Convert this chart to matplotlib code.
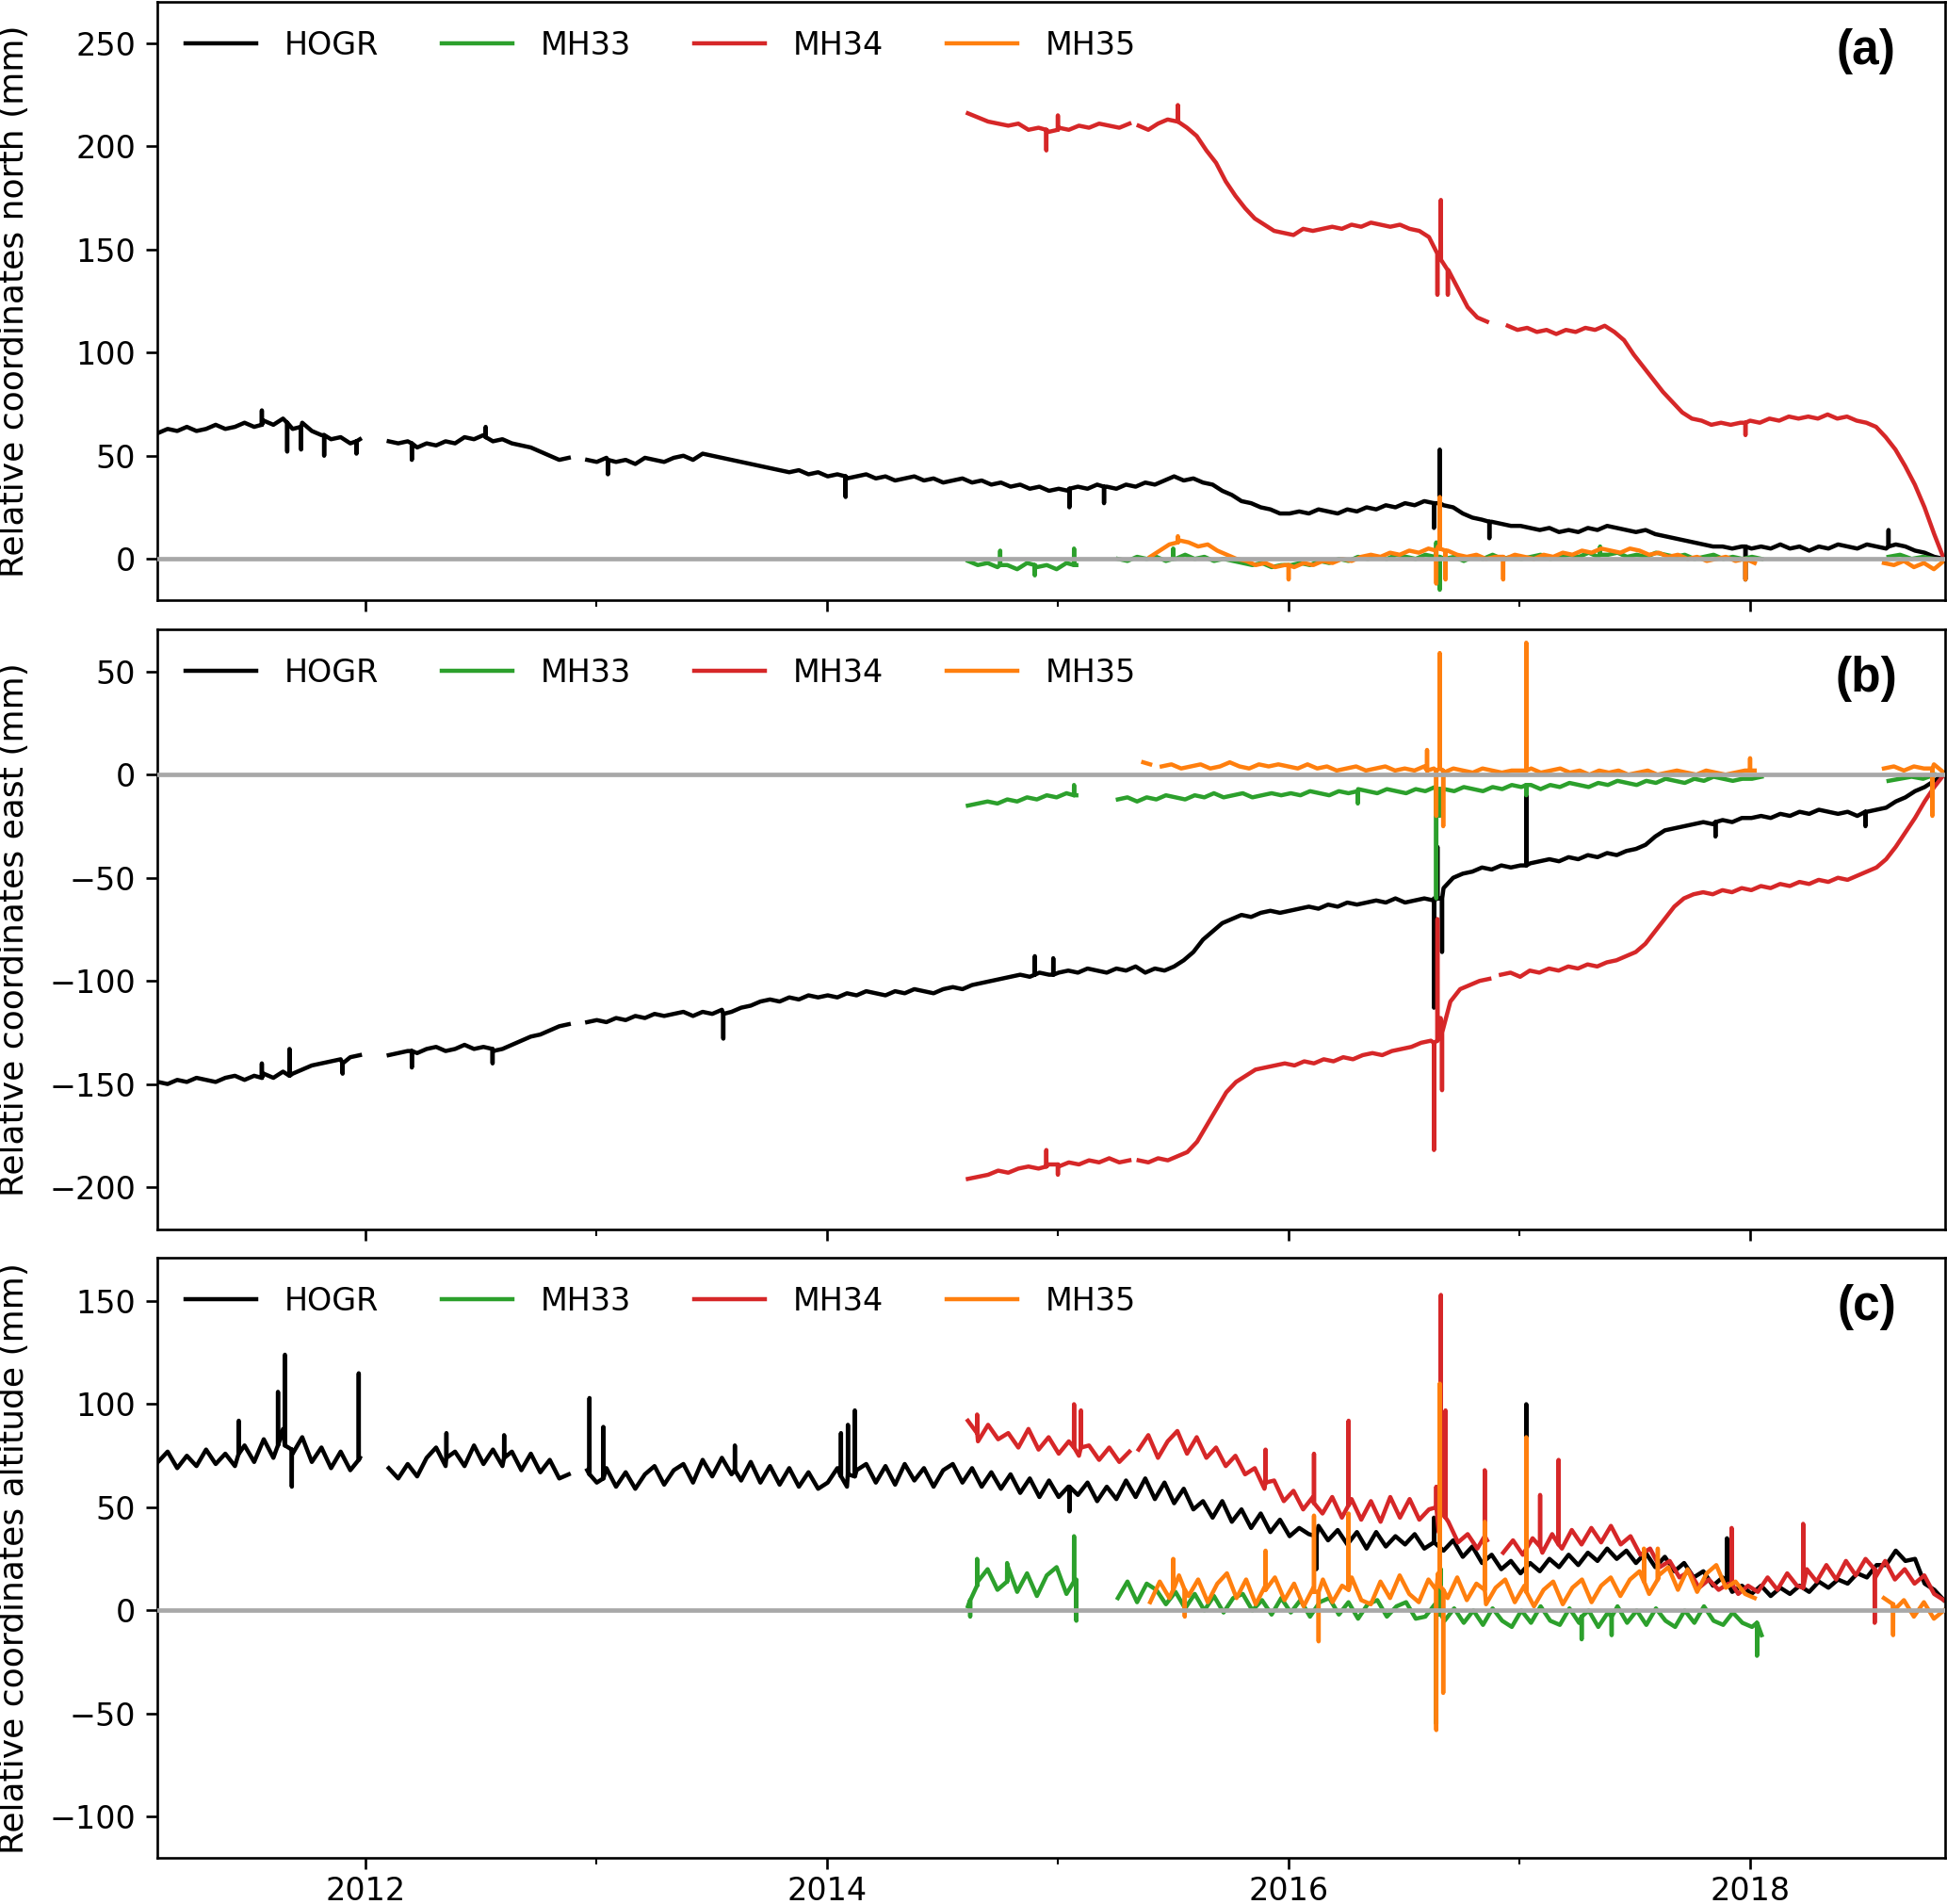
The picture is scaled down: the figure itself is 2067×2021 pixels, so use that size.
import numpy as np
import matplotlib
matplotlib.use("Agg")
import matplotlib.pyplot as plt

# ---------------- data (decimal years, mm) ----------------
stations = ["HOGR", "MH33", "MH34", "MH35"]
colors = ["#000000", "#2ca02c", "#d62728", "#ff7f0e"]
panel_labels = ["(a)", "(b)", "(c)"]
ylabels = ["Relative coordinates north (mm)",
           "Relative coordinates east (mm)",
           "Relative coordinates altitude (mm)"]
year_ticks = [2012, 2014, 2016, 2018]
minor_year_ticks = [2013, 2015, 2017]

# Each series: segments (start, end, values sampled evenly) and spikes (date, base, peak)
# ======================= NORTH =======================
hogr_n_segs = [
    (2011.10, 2011.975, [61, 63, 62, 64, 62, 63, 65, 63, 64, 66, 64, 67, 65, 68, 63, 66, 62, 60, 58, 59, 56, 58]),
    (2012.10, 2012.88, [57, 56, 57, 54, 56, 55, 57, 56, 59, 58, 60, 57, 58, 56, 55, 54, 52, 50, 48, 49]),
    (2012.96, 2018.84, [48, 47,
                        49, 47, 48, 46, 49, 48, 47, 49, 50, 48, 51, 50, 49, 48, 47, 46, 45, 44, 43, 42, 43, 41, 42,
                        40, 41, 39, 40, 41, 39, 40, 38, 39, 40, 38, 39, 37, 38, 39, 37, 38, 36, 37, 35, 36, 34, 35, 33,
                        34, 33, 35, 34, 36, 35, 34, 36, 35, 37, 36, 38, 40, 38, 39, 37, 36, 33, 31, 28, 27, 25, 24, 22,
                        22, 23, 22, 24, 23, 22, 24, 23, 25, 24, 26, 25, 27, 26, 28, 27, 26, 25, 22, 20, 19, 18, 17, 16,
                        16, 15, 14, 15, 13, 14, 13, 15, 14, 16, 15, 14, 13, 14, 12, 11, 10, 9, 8, 7, 6, 6, 5, 6,
                        5, 6, 5, 7, 5, 6, 4, 6, 5, 7, 6, 5, 7, 6, 5, 7, 6, 4, 3, 1, 0]),
]
hogr_n_spk_d = [2011.55, 2011.66, 2011.72, 2011.82, 2011.96, 2012.20, 2012.52, 2013.05, 2014.08, 2015.05,
                2015.20, 2016.63, 2016.655, 2016.87, 2017.98, 2018.60]
hogr_n_spk_b = [65, 66, 64, 60, 57, 56, 59, 48, 40, 34, 35, 27, 27, 18, 6, 6]
hogr_n_spk_p = [72, 52, 53, 50, 51, 48, 64, 41, 30, 25, 27, 15, 53, 10, -10, 14]

mh33_n_segs = [
    (2014.61, 2015.08, [-1, -3, -2, -4, -3, -5, -2, -4, -3, -5, -2, -3]),
    (2015.26, 2018.05, [0, -1, 1, 0, 1, -1, 0, 2, 0, 1, -1, 0, -1, -2, -3, -2, -4, -3,
                        -3, -2, -3, -1, -2, 0, -1, 1, 0, 1, 0, 2, 1, 0, 2, 1, 0, 1, -1, 1, 0, 2, 0, 1,
                        0, 1, 2, 0, 1, 2, 1, 3, 1, 2, 3, 1, 2, 1, 3, 2, 1, 2, 0, 1, 2, 0, 1, 0,
                        1, 0]),
    (2018.60, 2018.80, [1, 2, 0, 1, 0]),
]
mh33_n_spk_d = [2014.75, 2014.90, 2015.07, 2015.50, 2016.64, 2016.655, 2017.35]
mh33_n_spk_b = [-3, -3, -3, 0, 1, 1, 2]
mh33_n_spk_p = [4, -8, 5, 5, 8, -15, 6]

mh34_n_segs = [
    (2014.61, 2015.31, [216, 214, 212, 211, 210, 211, 208, 209, 207, 209, 208, 210, 209, 211, 210, 209, 211]),
    (2015.35, 2016.86, [210, 208, 211, 213, 212, 209, 205, 198, 192, 183, 176, 170, 165, 162, 159, 158, 157,
                        160, 159, 160, 161, 160, 162, 161, 163, 162, 161, 162, 160, 159, 156, 148, 140, 131,
                        122, 117, 115]),
    (2016.95, 2018.84, [113, 111, 112, 110, 111, 109, 111, 110, 112, 111, 113, 110, 106, 99, 93, 87, 81, 76,
                        71, 68, 67, 65, 66, 65, 66, 67, 66, 68, 67, 69, 68, 69, 68, 70, 68, 69, 67, 66, 64,
                        59, 53, 45, 36, 25, 12, 0]),
]
mh34_n_spk_d = [2014.95, 2015.00, 2015.52, 2016.645, 2016.66, 2016.69, 2016.90, 2017.98]
mh34_n_spk_b = [208, 208, 212, 148, 145, 140, 114, 66]
mh34_n_spk_p = [198, 215, 220, 128, 174, 128, 104, 60]

mh35_n_segs = [
    (2015.40, 2018.02, [1, 4, 7, 9, 8, 6, 7, 4, 2, 0, -1, -3, -2, -4, -3,
                        -4, -2, -3, -1, -2, 0, -1, 1, 2, 1, 3, 2, 4, 3, 5, 6, 4, 2, 1, 2, 0, 1, 0, 2,
                        1, 0, 2, 1, 3, 2, 4, 3, 5, 4, 3, 5, 4, 2, 3, 1, 2, 0, 1, -1, 0, 1, -1, 0,
                        -2]),
    (2018.58, 2018.84, [-2, -3, -1, -4, -2, -5, -1]),
]
mh35_n_spk_d = [2015.52, 2016.00, 2016.64, 2016.655, 2016.68, 2016.93, 2017.98]
mh35_n_spk_b = [8, -3, 4, 5, 4, 1, 0]
mh35_n_spk_p = [11, -10, -12, 30, -10, -10, -10]

# ======================= EAST =======================
hogr_e_segs = [
    (2011.10, 2011.975, [-149, -150, -148, -149, -147, -148, -149, -147, -146, -148, -146, -145, -147, -144,
                         -145, -143, -141, -140, -139, -138, -137, -136]),
    (2012.10, 2012.88, [-136, -135, -134, -135, -133, -132, -134, -133, -131, -133, -132, -134, -133, -131,
                        -129, -127, -126, -124, -122, -121]),
    (2012.96, 2018.84, [-120, -119,
                        -120, -118, -119, -117, -118, -116, -117, -116, -115, -117, -115, -116, -114, -115, -113,
                        -112, -110, -109, -110, -108, -109, -107, -108,
                        -107, -108, -106, -107, -105, -106, -107, -105, -106, -104, -105, -106, -104, -103, -104,
                        -102, -101, -100, -99, -98, -97, -98, -96, -97,
                        -96, -95, -96, -94, -95, -96, -94, -95, -93, -96, -94, -95, -93, -90, -86, -80, -76, -72,
                        -70, -68, -69, -67, -66, -67,
                        -66, -65, -64, -65, -63, -64, -62, -63, -62, -61, -62, -60, -62, -61, -60, -60, -55, -50,
                        -48, -47, -45, -46, -44, -45,
                        -44, -43, -42, -41, -42, -40, -41, -39, -40, -38, -39, -37, -36, -34, -30, -27, -26, -25,
                        -24, -23, -24, -22, -23, -21,
                        -21, -20, -21, -19, -20, -18, -19, -17, -18, -19, -18, -20, -18, -17, -16, -13, -11, -8,
                        -6, -3, 0]),
]
hogr_e_spk_d = [2011.55, 2011.67, 2011.90, 2012.20, 2012.55, 2013.55, 2014.90, 2014.98, 2016.63, 2016.645,
                2016.665, 2017.03, 2017.85, 2018.50]
hogr_e_spk_b = [-147, -146, -140, -134, -133, -116, -97, -97, -61, -60, -60, -44, -23, -18]
hogr_e_spk_p = [-140, -133, -145, -142, -140, -128, -88, -89, -113, -35, -86, -5, -30, -25]

mh33_e_segs = [
    (2014.61, 2015.08, [-15, -14, -13, -14, -12, -13, -11, -12, -10, -11, -9, -10]),
    (2015.26, 2018.05, [-12, -11, -13, -11, -12, -10, -11, -12, -10, -11, -9, -11, -10, -9, -11, -10, -9, -10,
                        -9, -10, -8, -9, -10, -8, -9, -7, -8, -9, -7, -8, -9, -7, -8, -6, -7, -8, -6, -7, -8,
                        -6, -7, -5,
                        -6, -5, -7, -5, -6, -4, -5, -6, -4, -5, -3, -4, -5, -3, -4, -2, -3, -4, -2, -3, -1,
                        -2, -3, -2,
                        -2, -1]),
    (2018.60, 2018.80, [-3, -2, -1, -2, 0]),
]
mh33_e_spk_d = [2015.07, 2016.30, 2016.64, 2016.655, 2017.03]
mh33_e_spk_b = [-10, -8, -7, -7, -5]
mh33_e_spk_p = [-5, -14, -60, -20, -10]

mh34_e_segs = [
    (2014.61, 2015.31, [-196, -195, -194, -192, -193, -191, -190, -191, -189, -190, -188, -189, -187, -188,
                        -186, -188, -187]),
    (2015.35, 2016.87, [-187, -188, -186, -187, -185, -183, -178, -170, -162, -154, -149, -146, -143, -142,
                        -141, -140, -141, -139, -140, -138, -139, -137, -138, -136, -135, -136, -134, -133,
                        -132, -130, -129, -118, -110, -104, -102, -100, -99]),
    (2016.92, 2018.84, [-97, -96, -98, -95, -96, -94, -95, -93, -94, -92, -93, -91, -90, -88, -86, -82, -76,
                        -70, -64, -60, -58, -57, -58, -56, -57, -55, -56, -54, -55, -53, -54, -52, -53, -51,
                        -52, -50, -51, -49, -47, -45, -41, -35, -28, -21, -13, -6, 0]),
]
mh34_e_spk_d = [2014.95, 2015.00, 2016.63, 2016.645, 2016.665]
mh34_e_spk_b = [-190, -189, -130, -129, -125]
mh34_e_spk_p = [-182, -194, -182, -70, -153]

mh35_e_segs = [
    (2015.37, 2015.40, [6, 5]),
    (2015.45, 2018.02, [4, 5, 3, 4, 5, 3, 4, 6, 4, 3, 5, 4, 5,
                        4, 3, 5, 3, 4, 2, 3, 4, 2, 3, 4, 2, 3, 2, 4, 3, 1, 3, 2, 1, 3, 2, 1, 2,
                        2, 3, 1, 2, 3, 1, 2, 0, 2, 1, 2, 0, 1, 2, 0, 1, 2, 1, 0, 2, 1, 0, 1, 2,
                        2]),
    (2018.58, 2018.84, [3, 4, 2, 4, 3, 5, 1]),
]
mh35_e_spk_d = [2016.60, 2016.64, 2016.655, 2016.67, 2017.03, 2018.00, 2018.79]
mh35_e_spk_b = [2, 2, 3, 2, 2, 2, 3]
mh35_e_spk_p = [12, -20, 59, -25, 64, 8, -20]

# ======================= ALTITUDE =======================
hogr_u_segs = [
    (2011.10, 2011.975, [72, 77, 69, 75, 70, 78, 71, 76, 70, 80, 72, 83, 74, 88, 76, 84, 72, 79, 69, 77, 68, 74]),
    (2012.10, 2012.88, [69, 64, 71, 65, 74, 79, 70, 77, 70, 80, 71, 78, 70, 77, 68, 76, 67, 73, 64, 66]),
    (2012.96, 2018.84, [68, 62,
                        69, 60, 67, 59, 66, 70, 61, 68, 71, 62, 73, 65, 74, 66, 63, 72, 62, 70, 61, 69, 60, 67, 59,
                        62, 69, 60, 68, 71, 62, 70, 61, 71, 63, 69, 60, 68, 71, 62, 69, 60, 67, 59, 66, 57, 64, 55,
                        63,
                        55, 60, 56, 62, 53, 60, 54, 63, 55, 64, 54, 62, 52, 59, 49, 53, 45, 53, 43, 49, 40, 47, 38,
                        44,
                        36, 40, 37, 41, 34, 39, 32, 38, 30, 38, 31, 36, 32, 37, 30, 35, 29, 34, 26, 31, 23, 27, 20,
                        24,
                        18, 23, 19, 25, 21, 27, 22, 28, 24, 30, 25, 29, 23, 28, 21, 26, 19, 23, 16, 19, 12, 16, 9,
                        12,
                        8, 12, 7, 11, 8, 12, 9, 14, 11, 15, 13, 18, 16, 22, 22, 29, 24, 25, 13, 10, 5]),
]
hogr_u_spk_d = [2011.45, 2011.62, 2011.65, 2011.68, 2011.97, 2012.35, 2012.60, 2012.97, 2013.03, 2013.60,
                2014.06, 2014.09, 2014.12, 2015.05, 2016.12, 2016.63, 2017.03, 2017.90]
hogr_u_spk_b = [76, 80, 80, 78, 73, 74, 74, 66, 64, 68, 65, 66, 65, 60, 36, 33, 21, 14]
hogr_u_spk_p = [92, 106, 124, 60, 115, 86, 85, 103, 89, 80, 86, 90, 97, 48, 20, 45, 100, 35]

mh33_u_segs = [
    (2014.61, 2015.08, [2, 14, 20, 10, 22, 9, 18, 7, 17, 21, 8, 15]),
    (2015.26, 2018.05, [6, 14, 4, 13, 10, 3, 9, 1, 8, 0, 7, -1, 6, 8, 0, 5, -2, 6,
                        -1, 5, -3, 4, 6, -2, 4, -4, 3, 5, -3, 2, 4, -4, -3, 3, -5, 1, -6, 0, -7, 1, -5, -8,
                        0, -6, 2, -5, -7, 1, -6, 0, -8, -1, 2, -6, 0, -7, 1, -5, -8, 0, -6, 2, -5, -7,
                        -1, -6,
                        -8, -12]),
]
mh33_u_spk_d = [2014.62, 2014.65, 2014.78, 2015.07, 2015.08, 2016.64, 2016.66, 2017.27, 2017.40, 2018.03]
mh33_u_spk_b = [5, 12, 14, 14, 12, -2, -2, -3, -3, -6]
mh33_u_spk_p = [-3, 25, 23, 36, -5, -55, 20, -14, -12, -22]

mh34_u_segs = [
    (2014.61, 2015.31, [92, 82, 90, 83, 86, 79, 88, 78, 84, 76, 82, 75, 80, 73, 79, 72, 77]),
    (2015.35, 2016.86, [78, 85, 74, 82, 87, 76, 84, 74, 79, 70, 75, 66, 69, 59, 63, 53, 58, 49, 55, 47, 55,
                        45, 54, 44, 53, 43, 55, 45, 54, 44, 49, 38, 43, 33, 37, 30, 34]),
    (2016.93, 2018.84, [28, 34, 27, 35, 28, 37, 30, 39, 32, 40, 33, 41, 32, 36, 27, 30, 21, 24, 16, 19, 11,
                        15, 10, 13, 8, 12, 9, 16, 10, 18, 12, 20, 14, 22, 15, 24, 17, 25, 16, 24, 15, 20,
                        13, 17, 8, 5]),
]
mh34_u_spk_d = [2014.65, 2015.07, 2015.10, 2015.90, 2016.11, 2016.26, 2016.64, 2016.66, 2016.68, 2016.85,
                2017.09, 2017.17, 2017.92, 2018.23, 2018.54]
mh34_u_spk_b = [86, 79, 79, 62, 52, 51, 50, 48, 45, 36, 31, 32, 13, 11, 20]
mh34_u_spk_p = [95, 100, 97, 78, 76, 92, 60, 153, 97, 68, 56, 73, 40, 42, -6]

mh35_u_segs = [
    (2015.40, 2018.02, [4, 14, 6, 17, 7, 15, 4, 13, 18, 6, 15, 3, 12, 16, 5,
                        13, 2, 11, 15, 4, 12, 16, 5, 3, 14, 6, 17, 8, 4, 15, 18, 6, 16, 5, 13, 3, 11, 15, 4,
                        12, 2, 10, 14, 3, 11, 15, 4, 12, 16, 7, 15, 19, 8, 17, 21, 10, 20, 9, 18, 22, 11, 14, 8,
                        6]),
    (2018.58, 2018.84, [6, 0, 5, -3, 4, -4, 0]),
]
mh35_u_spk_d = [2015.50, 2015.55, 2015.90, 2016.11, 2016.13, 2016.26, 2016.64, 2016.655, 2016.67, 2016.85,
                2017.03, 2017.54, 2017.60, 2018.62]
mh35_u_spk_b = [10, 10, 10, 9, 9, 10, 10, 12, 10, 10, 9, 14, 15, 3]
mh35_u_spk_p = [25, -3, 29, 46, -15, 47, -58, 110, -40, 43, 84, 30, 30, -12]

panels = [
    [(hogr_n_segs, hogr_n_spk_d, hogr_n_spk_b, hogr_n_spk_p),
     (mh33_n_segs, mh33_n_spk_d, mh33_n_spk_b, mh33_n_spk_p),
     (mh34_n_segs, mh34_n_spk_d, mh34_n_spk_b, mh34_n_spk_p),
     (mh35_n_segs, mh35_n_spk_d, mh35_n_spk_b, mh35_n_spk_p)],
    [(hogr_e_segs, hogr_e_spk_d, hogr_e_spk_b, hogr_e_spk_p),
     (mh33_e_segs, mh33_e_spk_d, mh33_e_spk_b, mh33_e_spk_p),
     (mh34_e_segs, mh34_e_spk_d, mh34_e_spk_b, mh34_e_spk_p),
     (mh35_e_segs, mh35_e_spk_d, mh35_e_spk_b, mh35_e_spk_p)],
    [(hogr_u_segs, hogr_u_spk_d, hogr_u_spk_b, hogr_u_spk_p),
     (mh33_u_segs, mh33_u_spk_d, mh33_u_spk_b, mh33_u_spk_p),
     (mh34_u_segs, mh34_u_spk_d, mh34_u_spk_b, mh34_u_spk_p),
     (mh35_u_segs, mh35_u_spk_d, mh35_u_spk_b, mh35_u_spk_p)],
]
ylims = [(-20, 270), (-220.5, 70.5), (-120, 171)]
yticks = [[0, 50, 100, 150, 200, 250], [-200, -150, -100, -50, 0, 50], [-100, -50, 0, 50, 100, 150]]


def build(segs, sd, sb, sp):
    """Concatenate segments (NaN between them) and insert each spike as a vertical excursion."""
    sd = np.asarray(sd, float); sb = np.asarray(sb, float); sp = np.asarray(sp, float)
    xs, ys = [], []
    for k, (a, b, vals) in enumerate(segs):
        x = np.linspace(a, b, len(vals))
        y = np.asarray(vals, float)
        m = (sd >= a - 0.03) & (sd <= b + 0.03)
        ex = np.column_stack([sd[m] - 0.0005, sd[m], sd[m] + 0.0005]).ravel()
        ey = np.column_stack([sb[m], sp[m], sb[m]]).ravel()
        x = np.concatenate([x, ex])
        y = np.concatenate([y, ey])
        o = np.argsort(x, kind="stable")
        xs.append(x[o]); ys.append(y[o])
        if k < len(segs) - 1:
            xs.append([np.nan]); ys.append([np.nan])
    return np.concatenate(xs), np.concatenate(ys)


plt.rcParams.update({
    "font.family": ["DejaVu Sans"],
    "font.size": 24,
    "axes.linewidth": 1.9,
    "xtick.major.size": 8.4, "ytick.major.size": 8.4,
    "xtick.minor.size": 4.8, "ytick.minor.size": 4.8,
    "xtick.major.width": 1.9, "ytick.major.width": 1.9,
    "xtick.minor.width": 1.5,
    "xtick.major.pad": 5, "ytick.major.pad": 8,
})

fig = plt.figure(figsize=(20.67, 20.21), dpi=100)
left, width = 0.0808, 0.9182
boxes = [(0.6848, 0.3142), (0.3543, 0.3152), (0.0242, 0.3152)]
for i, (b, h) in enumerate(boxes):
    ax = fig.add_axes([left, b, width, h])
    for (segs, sd, sb, sp), name, c in zip(panels[i], stations, colors):
        x, y = build(segs, sd, sb, sp)
        ax.plot(x, y, color=c, lw=3.2, label=name)
    ax.axhline(0, color="#a8a8a8", lw=3.4, zorder=10)
    ax.set_xlim(2011.097, 2018.845)
    ax.set_ylim(*ylims[i])
    ax.set_yticks(yticks[i])
    ax.set_yticklabels([str(v).replace("-", "\u2212") for v in yticks[i]])
    ax.set_xticks(year_ticks)
    ax.set_xticks(minor_year_ticks, minor=True)
    if i < 2:
        ax.set_xticklabels([])
    else:
        ax.set_xticklabels([str(t) for t in year_ticks])
    ax.set_ylabel(ylabels[i], fontsize=26)
    ax.yaxis.set_label_coords(-0.071, 0.5)
    ax.legend(loc="upper left", ncol=4, frameon=False, handlelength=2.25,
              columnspacing=2.0, handletextpad=0.9, borderaxespad=0.5)
    ax.text(0.956, 0.918, panel_labels[i], transform=ax.transAxes, ha="center", va="center",
            fontsize=37, fontweight="bold", family=["Liberation Sans", "DejaVu Sans"])

fig.savefig("out.png", dpi=100)
